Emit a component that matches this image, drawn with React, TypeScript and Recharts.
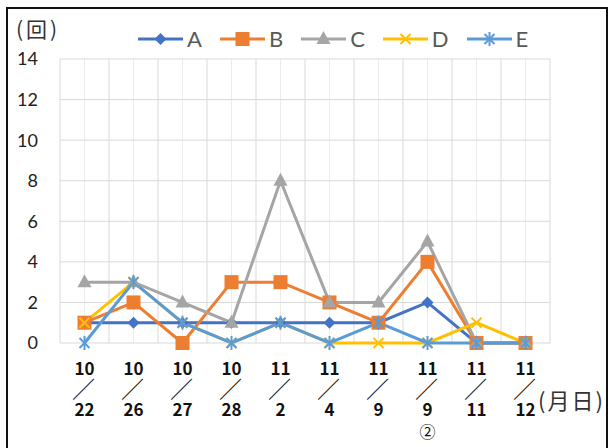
import { LineChart, Line, XAxis, YAxis, CartesianGrid } from "recharts";

const categories = ["10/22", "10/26", "10/27", "10/28", "11/2", "11/4", "11/9", "11/9②", "11/11", "11/12"];
const seriesA = [1, 1, 1, 1, 1, 1, 1, 2, 0, 0];
const seriesB = [1, 2, 0, 3, 3, 2, 1, 4, 0, 0];
const seriesC = [3, 3, 2, 1, 8, 2, 2, 5, 0, 0];
const seriesD = [1, 3, 1, 0, 1, 0, 0, 0, 1, 0];
const seriesE = [0, 3, 1, 0, 1, 0, 1, 0, 0, 0];
const yTicks = [0, 2, 4, 6, 8, 10, 12, 14];

const data = categories.map((name, i) => ({
    name,
    A: seriesA[i],
    B: seriesB[i],
    C: seriesC[i],
    D: seriesD[i],
    E: seriesE[i],
}));

const W = 611;
const H = 448;
// x axis takes 30px of its own below the plot
const margin = { top: 59, right: 61, bottom: 75, left: 0 };

// marker shapes, Excel style
function Marker({ kind, cx, cy, color }: { kind: string; cx: number; cy: number; color: string }) {
    if (cx == null || cy == null) return null;
    if (kind === "diamond")
        return <polygon points={`${cx},${cy - 6} ${cx + 6},${cy} ${cx},${cy + 6} ${cx - 6},${cy}`} fill={color} />;
    if (kind === "square")
        return <rect x={cx - 7} y={cy - 7} width={14} height={14} fill={color} />;
    if (kind === "triangle")
        return <polygon points={`${cx},${cy - 8} ${cx + 7},${cy + 5} ${cx - 7},${cy + 5}`} fill={color} />;
    if (kind === "x")
        return (
            <g stroke={color} strokeWidth={2}>
                <line x1={cx - 5} y1={cy - 5} x2={cx + 5} y2={cy + 5} />
                <line x1={cx - 5} y1={cy + 5} x2={cx + 5} y2={cy - 5} />
            </g>
        );
    return (
        <g stroke={color} strokeWidth={2}>
            <line x1={cx - 5} y1={cy - 5} x2={cx + 5} y2={cy + 5} />
            <line x1={cx - 5} y1={cy + 5} x2={cx + 5} y2={cy - 5} />
            <line x1={cx} y1={cy - 7} x2={cx} y2={cy + 7} />
        </g>
    );
}

const series = [
    { key: "A", color: "#4472C4", marker: "diamond" },
    { key: "B", color: "#ED7D31", marker: "square" },
    { key: "C", color: "#A5A5A5", marker: "triangle" },
    { key: "D", color: "#FFC000", marker: "x" },
    { key: "E", color: "#5B9BD5", marker: "asterisk" },
];

// stacked date label: month / slash / day (/ extra mark)
function DateTick({ x, y, payload }: any) {
    const m = String(payload.value).match(/^(\d+)\/(\d+)(.*)$/);
    const month = m ? m[1] : payload.value;
    const day = m ? m[2] : "";
    const extra = m ? m[3] : "";
    return (
        <text
            x={x}
            y={y + 32}
            textAnchor="middle"
            fill="#111"
            fontFamily="'Noto Sans CJK JP', sans-serif"
            fontWeight={700}
            fontSize={17}
        >
            <tspan x={x}>{month}</tspan>
            <tspan x={x - 1} dy={23} fontSize={23} fontWeight={400} fill="#222">
                ／
            </tspan>
            <tspan x={x} dy={18}>{day}</tspan>
            {extra && (
                <tspan x={x} dy={22} fontSize={16} fontWeight={400}>
                    {extra}
                </tspan>
            )}
        </text>
    );
}

function gridLines(offset: any, half: boolean) {
    const left = offset?.left ?? 60;
    const width = offset?.width ?? W - margin.right - 60;
    const out: number[] = [];
    for (let k = 0; k <= 20; k++) {
        if ((k % 2 === 1) === half) out.push(left + (width * k) / 20);
    }
    return out;
}

export default function App() {
    return (
        <div style={{ position: "absolute", left: 0, top: 0, width: W, height: H, background: "#fff", overflow: "hidden" }}>
            <div
                style={{
                    position: "absolute",
                    left: 6,
                    top: 7,
                    width: 602,
                    height: 470,
                    border: "2px solid #111",
                    boxSizing: "border-box",
                }}
            />
            <LineChart width={W} height={H} data={data} margin={margin}>
                <CartesianGrid
                    horizontal={false}
                    stroke="#ececec"
                    verticalCoordinatesGenerator={({ offset }: any) => gridLines(offset, true)}
                />
                <CartesianGrid
                    stroke="#d9d9d9"
                    verticalCoordinatesGenerator={({ offset }: any) => gridLines(offset, false)}
                />
                <XAxis
                    dataKey="name"
                    height={30}
                    axisLine={false}
                    tickLine={false}
                    tickSize={0}
                    tickMargin={0}
                    padding={{ left: 24.5, right: 24.5 }}
                    interval={0}
                    tick={<DateTick />}
                />
                <YAxis
                    width={60}
                    domain={[0, 14]}
                    ticks={yTicks}
                    axisLine={false}
                    tickLine={false}
                    tickSize={0}
                    tickMargin={22}
                    tick={{ fill: "#222", fontSize: 18, fontFamily: "Lato" }}
                />
                {series.map((s) => (
                    <Line
                        key={s.key}
                        type="linear"
                        dataKey={s.key}
                        stroke={s.color}
                        strokeWidth={3}
                        isAnimationActive={false}
                        activeDot={false}
                        dot={(p: any) => (
                            <Marker key={`${s.key}-${p.index}`} kind={s.marker} cx={p.cx} cy={p.cy} color={s.color} />
                        )}
                    />
                ))}
            </LineChart>
            <div
                style={{
                    position: "absolute",
                    left: 16,
                    top: 17,
                    fontSize: 21,
                    lineHeight: "22px",
                    letterSpacing: 3,
                    color: "#333",
                    fontFamily: "'Noto Sans CJK JP', sans-serif",
                }}
            >
                (回)
            </div>
            <div
                style={{
                    position: "absolute",
                    left: 138,
                    top: 27,
                    height: 24,
                    display: "flex",
                    alignItems: "center",
                    fontFamily: "Lato",
                    fontSize: 22,
                    color: "#595959",
                }}
            >
                {series.map((s) => (
                    <div key={s.key} style={{ display: "flex", alignItems: "center", marginRight: 18 }}>
                        <svg width={45} height={20}>
                            <line x1={0} y1={10} x2={45} y2={10} stroke={s.color} strokeWidth={3} />
                            <Marker kind={s.marker} cx={22.5} cy={10} color={s.color} />
                        </svg>
                        <span style={{ marginLeft: 4, lineHeight: "24px" }}>{s.key}</span>
                    </div>
                ))}
            </div>
            <div
                style={{
                    position: "absolute",
                    left: 538,
                    top: 386,
                    fontSize: 22,
                    lineHeight: "26px",
                    letterSpacing: 2,
                    color: "#333",
                    fontFamily: "'Noto Sans CJK JP', sans-serif",
                    whiteSpace: "nowrap",
                }}
            >
                (月日)
            </div>
        </div>
    );
}
